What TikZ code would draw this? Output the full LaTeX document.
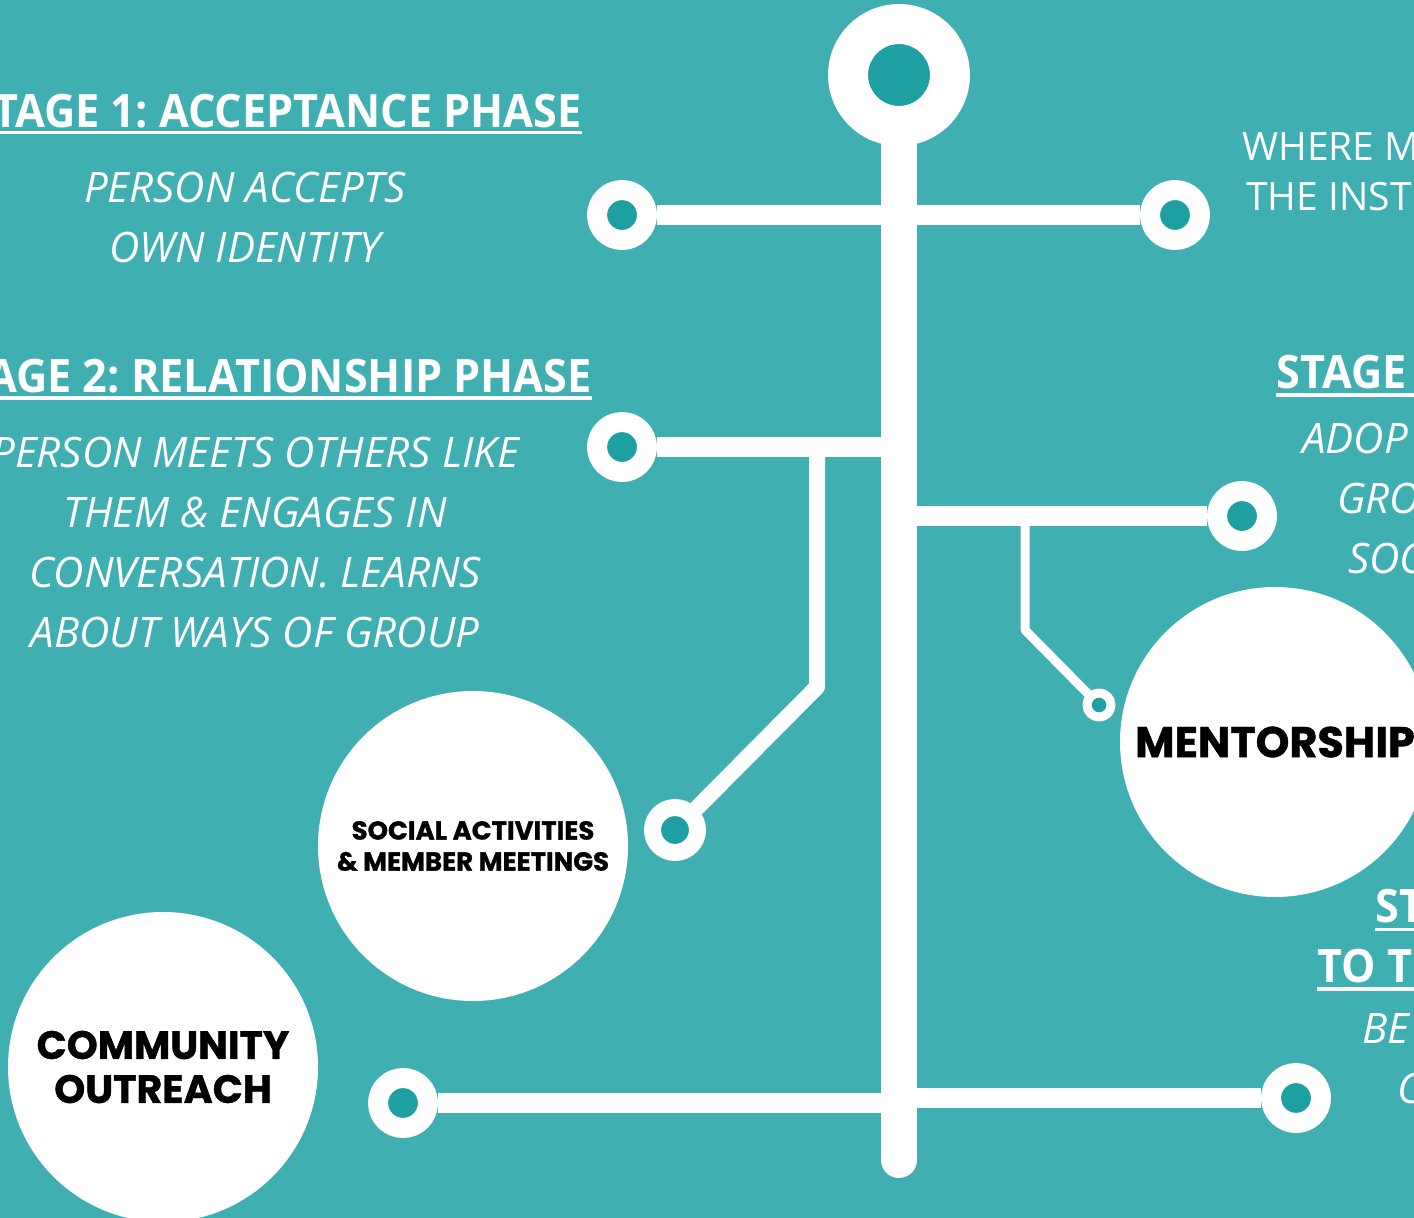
\documentclass[tikz,border=0pt]{standalone}
\usepackage{fontspec}
\setmainfont{Open Sans}
\newfontfamily\condfont{Open Sans}[FakeStretch=0.94]
\newfontfamily\popfont{Poppins}[BoldFeatures={FakeBold=1}]
\definecolor{bgteal}{RGB}{63,175,177}
\definecolor{dotteal}{RGB}{30,160,163}
\frenchspacing
\begin{document}
\begin{tikzpicture}[x=1pt,y=-1pt,line join=round,line cap=round]
	\tikzset{ring/.style={circle,draw=white,fill=dotteal,inner sep=0pt},
		trunk/.style={white,line width=36pt},
		bar/.style={white,line width=20pt,line cap=butt},
		twig/.style={white,line width=16pt},
		bubble/.style={circle,fill=white,minimum size=310pt,inner sep=0pt,align=center,text=black},
		head/.style={text=white,inner sep=0pt,font=\condfont\bfseries\fontsize{46pt}{50pt}\selectfont},
		note/.style={text=white,inner sep=0pt,align=center,font=\itshape\fontsize{42pt}{60pt}\selectfont},
		plain/.style={text=white,inner sep=0pt,font=\fontsize{39pt}{52pt}\selectfont},
		uline/.style={white,line width=3.5pt,line cap=butt}}
	\useasboundingbox (0,0) rectangle (1414,1218);
	\clip (0,0) rectangle (1414,1218);
	\fill[bgteal] (0,0) rectangle (1414,1218);
	\node[ring,minimum size=102pt,line width=40pt] (top) at (899,75) {};
	\node[ring,minimum size=50pt,line width=20pt] (l1) at (622,215) {};
	\node[ring,minimum size=50pt,line width=20pt] (r1) at (1175,215) {};
	\node[ring,minimum size=50pt,line width=20pt] (l2) at (622,447) {};
	\node[ring,minimum size=45pt,line width=17pt] (s2) at (675,830) {};
	\node[ring,minimum size=50pt,line width=20pt] (r3) at (1242,516) {};
	\node[ring,minimum size=24pt,line width=9pt] (m3) at (1099,705) {};
	\node[ring,minimum size=50pt,line width=20pt] (l4) at (403,1103) {};
	\node[ring,minimum size=50pt,line width=20pt] (r4) at (1296,1098) {};
	\coordinate (tb) at (899,1160);
	\coordinate (j2) at (899,447);
	\coordinate (j3) at (899,516);
	\coordinate (j4) at (899,1103);
	\coordinate (j5) at (899,1098);
	\coordinate (k2) at (817,447);
	\coordinate (e2) at (817,687);
	\coordinate (k3) at (1025,516);
	\coordinate (e3) at (1025,630);
	\draw[trunk] (top) -- (tb);
	\draw[bar] (l1) -- (r1);
	\draw[bar] (l2) -- (j2);
	\draw[twig] (k2) -- (e2) -- (s2);
	\draw[bar] (j3) -- (r3);
	\draw[twig,line width=9pt] (k3) -- (e3) -- (m3);
	\draw[bar] (l4) -- (j4);
	\draw[bar] (j5) -- (r4);
	\node[bubble,font=\popfont\bfseries\fontsize{26pt}{31pt}\selectfont] (soc) at (473,846) {SOCIAL ACTIVITIES\\\& MEMBER MEETINGS};
	\node[bubble,font=\popfont\bfseries\fontsize{39.5pt}{44pt}\selectfont] (com) at (163,1067) {COMMUNITY\\OUTREACH};
	\node[bubble,font=\popfont\bfseries\fontsize{43pt}{46pt}\selectfont] (men) at (1275,742) {MENTORSHIP};
	\node[head,anchor=base east] (h1) at (582,127) {STAGE 1: ACCEPTANCE PHASE};
	\draw[uline] ([yshift=-5.5pt]h1.base west) -- ([yshift=-5.5pt]h1.base east);
	\node[note,anchor=north] (n1) at (245,172) {PERSON ACCEPTS\\OWN IDENTITY};
	\node[head,anchor=base east] (h2) at (592,392) {STAGE 2: RELATIONSHIP PHASE};
	\draw[uline] ([yshift=-6pt]h2.base west) -- ([yshift=-6pt]h2.base east);
	\node[note,anchor=north] (n2) at (255,437) {PERSON MEETS OTHERS LIKE\\THEM \& ENGAGES IN\\CONVERSATION. LEARNS\\ABOUT WAYS OF GROUP};
	\node[plain,anchor=base west] (w1) at (1242,160) {WHERE MO};
	\node[plain,anchor=base west] (w2) at (1246,210) {THE INSTI};
	\node[head,anchor=base west] (h3) at (1276,388) {STAGE};
	\draw[uline] ([yshift=-7pt]h3.base west) -- ++(150,0);
	\node[note,anchor=base west] (a1) at (1302,453) {ADOP};
	\node[note,anchor=base west] (a2) at (1337,513) {GRO};
	\node[note,anchor=base west] (a3) at (1348,573) {SOC};
	\node[head,anchor=base west] (h4) at (1375,922) {ST};
	\draw[uline] ([yshift=-7.5pt]h4.base west) -- ++(100,0);
	\node[head,anchor=base west] (h5) at (1317,982) {TO T};
	\draw[uline] ([yshift=-7pt]h5.base west) -- ++(150,0);
	\node[note,anchor=base west] (b1) at (1362,1043) {BE};
	\node[note,anchor=base west] (b2) at (1397,1103) {C};
\end{tikzpicture}
\end{document}
